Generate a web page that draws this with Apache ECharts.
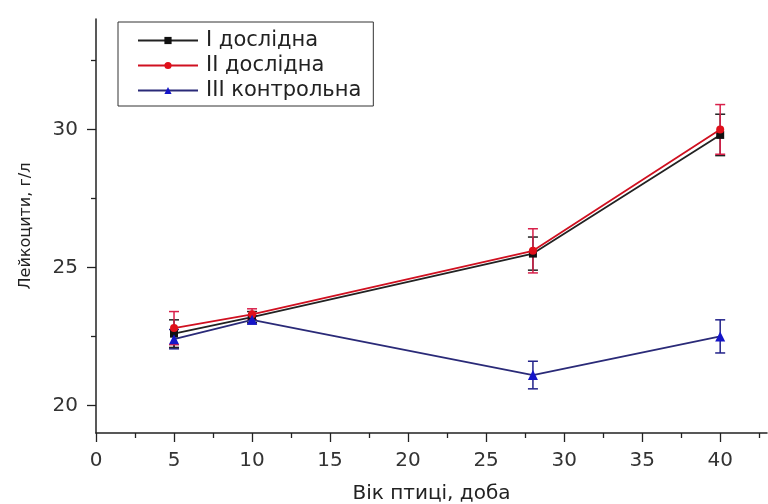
<!DOCTYPE html>
<html><head><meta charset="utf-8">
<script src="https://cdn.jsdelivr.net/npm/echarts@6/dist/echarts.min.js"></script>
<style>html,body{margin:0;padding:0;background:#fff}#c{width:768px;height:504px}</style>
</head><body><div id="c"></div>
<script>
var days = [5, 10, 28, 40];
var seriesNames = ['I дослідна', 'II дослідна', 'III контрольна'];
var s1 = [22.6, 23.2, 25.5, 29.8];
var e1 = [0.5, 0.2, 0.6, 0.75];
var s2 = [22.8, 23.3, 25.6, 30.0];
var e2 = [0.6, 0.2, 0.8, 0.9];
var s3 = [22.4, 23.1, 21.1, 22.5];
var e3 = [0.35, 0.15, 0.5, 0.6];
var xMajorTicks = [0, 5, 10, 15, 20, 25, 30, 35, 40];
var xMinorTicks = [2.5, 7.5, 12.5, 17.5, 22.5, 27.5, 32.5, 37.5, 42.5];
var xLabels = [0, 5, 10, 15, 20, 25, 30, 35, 40];
var yMajorTicks = [20, 25, 30];
var yMinorTicks = [22.5, 27.5, 32.5];
var yLabels = [20, 25, 30];

var FONT = '"DejaVu Sans", Verdana, sans-serif';
var colors = ['#111111', '#e0101a', '#1515c8'];
var lineColors = ['#222222', '#d01020', '#2a2a78'];
var symbols = ['rect', 'circle', 'triangle'];

function pts(vals) { return days.map(function (d, i) { return [d, vals[i]]; }); }
function errData(vals, errs) { return days.map(function (d, i) { return [d, vals[i] - errs[i], vals[i] + errs[i]]; }); }

function errSeries(vals, errs, color) {
  return {
    type: 'custom', z: 1, silent: true,
    renderItem: function (params, api) {
      var x = api.value(0);
      var lo = api.coord([x, api.value(1)]);
      var hi = api.coord([x, api.value(2)]);
      var w = 5;
      var st = { stroke: color, lineWidth: 1.5 };
      return { type: 'group', children: [
        { type: 'line', shape: { x1: lo[0], y1: lo[1], x2: hi[0], y2: hi[1] }, style: st },
        { type: 'line', shape: { x1: lo[0] - w, y1: lo[1], x2: lo[0] + w, y2: lo[1] }, style: st },
        { type: 'line', shape: { x1: hi[0] - w, y1: hi[1], x2: hi[0] + w, y2: hi[1] }, style: st }
      ]};
    },
    encode: { x: 0, y: [1, 2] },
    data: errData(vals, errs)
  };
}

function lineSeries(idx, vals) {
  return {
    name: seriesNames[idx], type: 'line', z: 3 + idx,
    data: pts(vals),
    symbol: symbols[idx], symbolSize: idx === 2 ? 10 : 8,
    itemStyle: { color: colors[idx] },
    lineStyle: { color: lineColors[idx], width: 1.8 }
  };
}

var tickStyle = { color: '#222', width: 1.3 };

var chart = echarts.init(document.getElementById('c'), null, { renderer: 'canvas' });
chart.setOption({
  animation: false,
  backgroundColor: '#fff',
  textStyle: { fontFamily: FONT },
  grid: { left: 96, top: 19, width: 671, height: 414, containLabel: false, outerBoundsMode: 'none' },
  legend: {
    left: 118, top: 22, orient: 'vertical',
    data: seriesNames,
    borderColor: '#333', borderWidth: 1, borderRadius: 0,
    padding: [8, 12, 5, 19],
    itemWidth: 60, itemHeight: 9, itemGap: 4,
    textStyle: { fontFamily: FONT, fontSize: 21, color: '#222', lineHeight: 18, padding: [0, 0, 0, 3] }
  },
  xAxis: [{
    type: 'value', min: 0, max: 43,
    name: 'Вік птиці, доба', nameLocation: 'middle', nameGap: 51,
    nameTextStyle: { fontFamily: FONT, fontSize: 20, color: '#222' },
    axisLine: { show: true, onZero: false, lineStyle: { color: '#222', width: 1.5 } },
    axisTick: { show: true, customValues: xMajorTicks, length: 9, lineStyle: tickStyle },
    axisLabel: { customValues: xLabels, fontFamily: FONT, fontSize: 20, color: '#333', margin: 18 },
    splitLine: { show: false }
  }, {
    type: 'value', min: 0, max: 43, position: 'bottom', offset: 0,
    axisLine: { show: false },
    axisTick: { show: true, customValues: xMinorTicks, length: 5, lineStyle: tickStyle },
    axisLabel: { show: false },
    splitLine: { show: false }
  }],
  yAxis: [{
    type: 'value', min: 19, max: 34,
    name: 'Лейкоцити, г/л', nameLocation: 'middle', nameGap: 62, nameRotate: 90,
    nameTextStyle: { fontFamily: FONT, fontSize: 16, color: '#222' },
    axisLine: { show: true, onZero: false, lineStyle: { color: '#222', width: 1.5 } },
    axisTick: { show: true, customValues: yMajorTicks, length: 9, lineStyle: tickStyle },
    axisLabel: { customValues: yLabels, fontFamily: FONT, fontSize: 20, color: '#333', margin: 18 },
    splitLine: { show: false }
  }, {
    type: 'value', min: 19, max: 34, position: 'left', offset: 0,
    axisLine: { show: false },
    axisTick: { show: true, customValues: yMinorTicks, length: 5, lineStyle: tickStyle },
    axisLabel: { show: false },
    splitLine: { show: false }
  }],
  series: [
    errSeries(s3, e3, '#22228a'),
    errSeries(s1, e1, '#222222'),
    errSeries(s2, e2, '#d8204a'),
    lineSeries(2, s3),
    lineSeries(0, s1),
    lineSeries(1, s2)
  ]
});
</script></body></html>
